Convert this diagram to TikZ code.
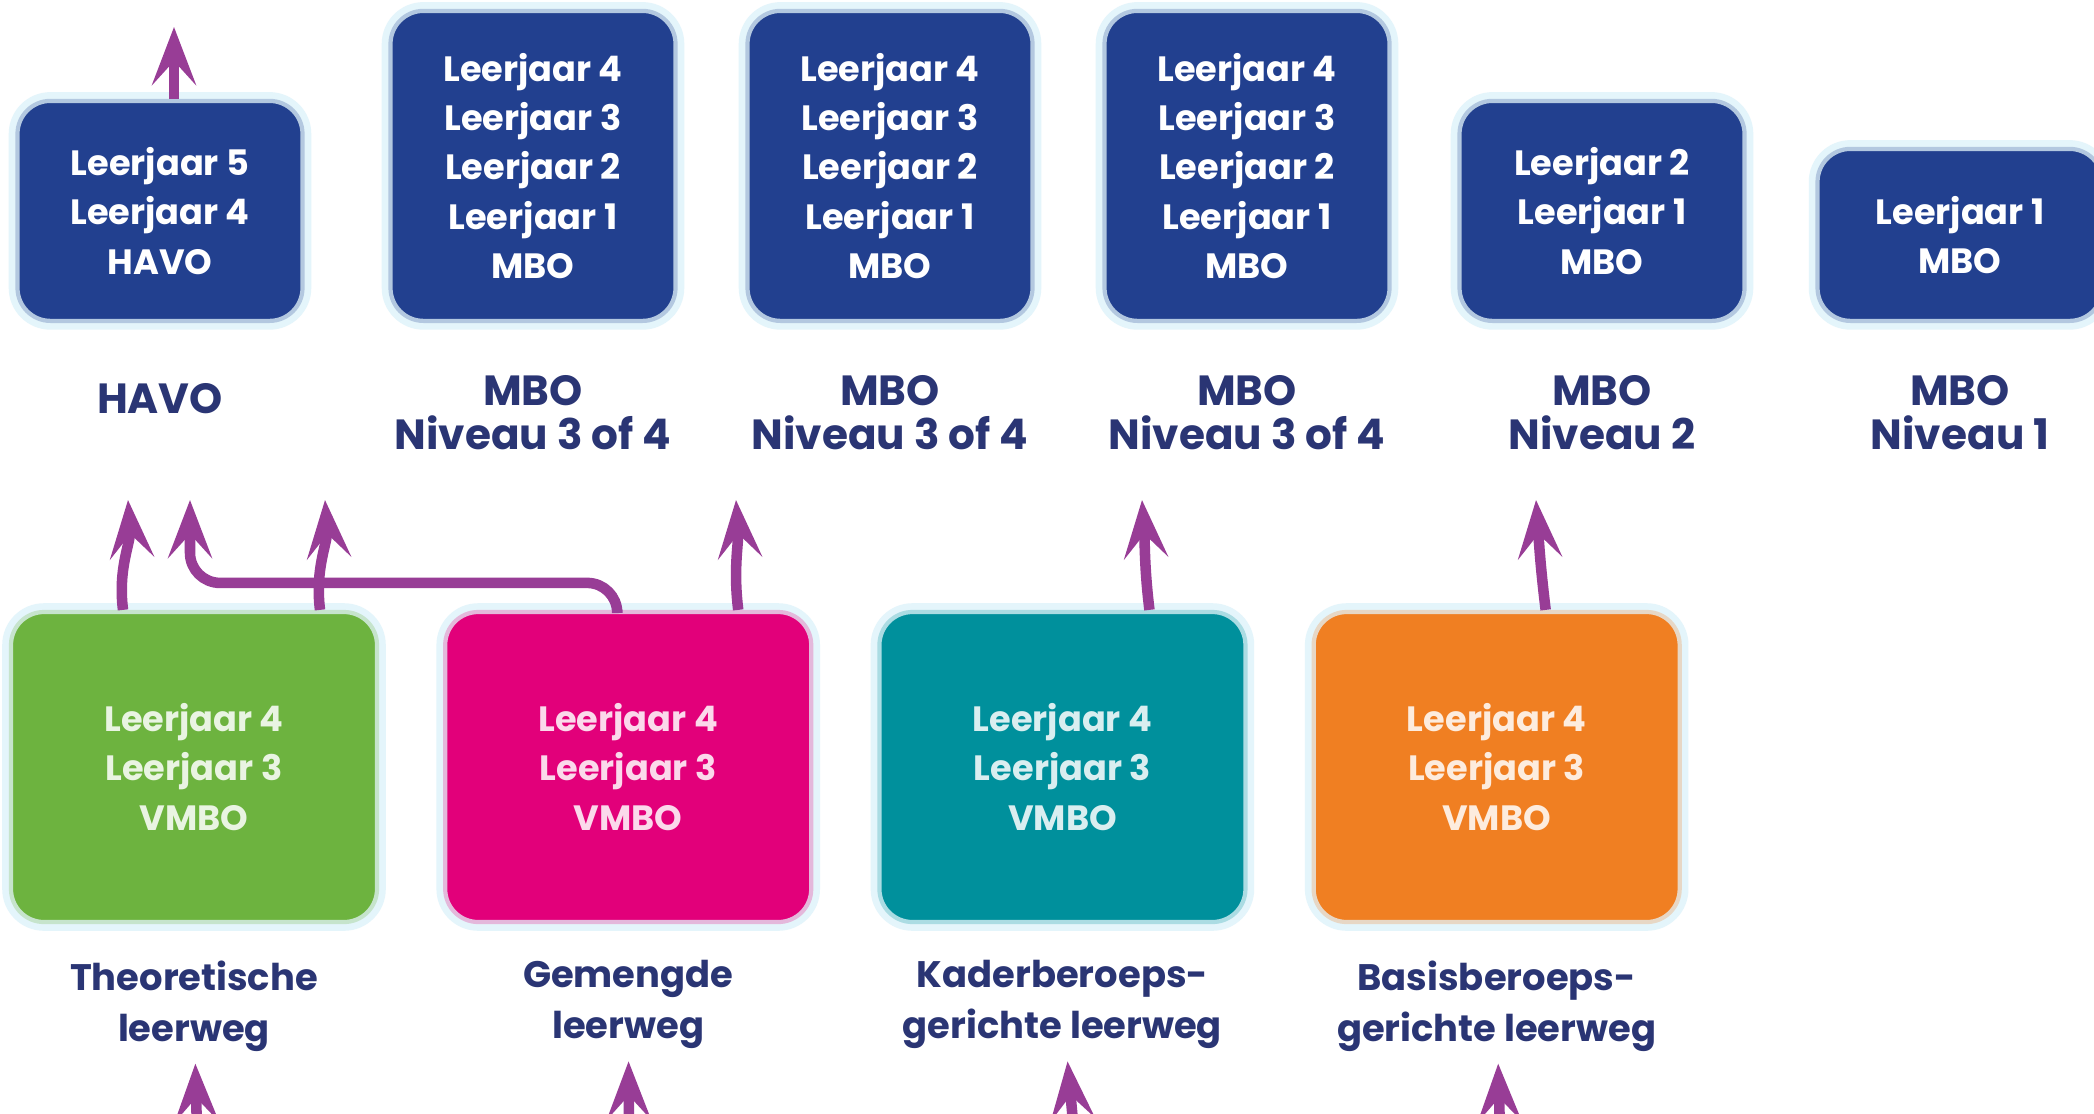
\documentclass[tikz,border=0pt]{standalone}
\usepackage{fontspec}
\setmainfont{Poppins}
\usetikzlibrary{arrows.meta,positioning}

\definecolor{navy}{HTML}{22408F}
\definecolor{inkt}{HTML}{2A3574}
\definecolor{paars}{HTML}{983D96}
\definecolor{groen}{HTML}{6DB33F}
\definecolor{roze}{HTML}{E2007A}
\definecolor{petrol}{HTML}{00909C}
\definecolor{oranje}{HTML}{F07F22}
\definecolor{gloed}{HTML}{E4F5FB}

\tikzset{
  blok/.style={rounded corners=0.33cm, fill=#1, draw=#1!25!gloed, line width=1.2pt,
    preaction={draw=gloed, line width=5pt}, align=center, inner sep=0pt,
    font=\bfseries\fontsize{10}{14}\selectfont},
  hoog/.style={blok=navy, text=white, minimum width=2.85cm, anchor=south},
  vmbo/.style={blok=#1, text=#1!15!white, minimum width=3.66cm, minimum height=3.10cm},
  naam/.style={text=inkt, align=center, font=\bfseries\fontsize{12}{12.5}\selectfont},
  pad/.style={naam, font=\bfseries\fontsize{10.5}{14.5}\selectfont},
  pijl/.style={draw=paars, line width=3pt,
    -{Stealth[length=0.58cm, width=0.44cm, inset=0.24cm]}},
}

\begin{document}
\begin{tikzpicture}
  \fill[white] (0,0) rectangle (20.94,11.13);
  \useasboundingbox (0,0) rectangle (20.94,11.13);
  \clip (0,0) rectangle (20.94,11.13);

  % vervolgopleidingen
  \node[hoog, minimum height=2.20cm] (havo) at (1.60,7.90) {Leerjaar 5\\Leerjaar 4\\HAVO};
  \node[hoog, minimum height=3.10cm] (mboa) at (5.33,7.90) {Leerjaar 4\\Leerjaar 3\\Leerjaar 2\\Leerjaar 1\\MBO};
  \node[hoog, minimum height=3.10cm] (mbob) at (8.90,7.90) {Leerjaar 4\\Leerjaar 3\\Leerjaar 2\\Leerjaar 1\\MBO};
  \node[hoog, minimum height=3.10cm] (mboc) at (12.47,7.90) {Leerjaar 4\\Leerjaar 3\\Leerjaar 2\\Leerjaar 1\\MBO};
  \node[hoog, minimum height=2.20cm] (mbotwee) at (16.02,7.90) {Leerjaar 2\\Leerjaar 1\\MBO};
  \node[hoog, minimum height=1.72cm] (mboeen) at (19.60,7.90) {Leerjaar 1\\MBO};

  \node[naam, below=0.48cm of havo] (lhavo) {HAVO};
  \node[naam, below=0.40cm of mboa] (lmboa) {MBO\\Niveau 3 of 4};
  \node[naam, below=0.40cm of mbob] (lmbob) {MBO\\Niveau 3 of 4};
  \node[naam, below=0.40cm of mboc] (lmboc) {MBO\\Niveau 3 of 4};
  \node[naam, below=0.40cm of mbotwee] (lmbotwee) {MBO\\Niveau 2};
  \node[naam, below=0.40cm of mboeen] (lmboeen) {MBO\\Niveau 1};

  % vmbo leerwegen
  \node[vmbo=groen] (theo) at (1.94,3.46) {Leerjaar 4\\Leerjaar 3\\VMBO};
  \node[vmbo=roze, right=0.64cm of theo] (gem) {Leerjaar 4\\Leerjaar 3\\VMBO};
  \node[vmbo=petrol, right=0.64cm of gem] (kader) {Leerjaar 4\\Leerjaar 3\\VMBO};
  \node[vmbo=oranje, right=0.64cm of kader] (basis) {Leerjaar 4\\Leerjaar 3\\VMBO};

  \node[pad, below=0.24cm of theo] (ltheo) {Theoretische\\leerweg};
  \node[pad, below=0.24cm of gem] (lgem) {Gemengde\\leerweg};
  \node[pad, below=0.24cm of kader] (lkader) {Kaderberoeps-\\gerichte leerweg};
  \node[pad, below=0.24cm of basis] (lbasis) {Basisberoeps-\\gerichte leerweg};

  % pijlpunten
  \coordinate (uit) at (1.74,10.86);
  \coordinate (t1) at (1.28,6.13);
  \coordinate (t2) at (1.90,6.13);
  \coordinate (t3) at (3.25,6.13);
  \coordinate (t4) at (7.36,6.13);
  \coordinate (t5) at (11.42,6.13);
  \coordinate (t6) at (15.36,6.13);
  \coordinate (in1) at (1.97,-0.2);
  \coordinate (in2) at (6.29,-0.2);
  \coordinate (in3) at (10.74,-0.2);
  \coordinate (in4) at (15.00,-0.2);

  \draw[pijl] (havo.north -| uit) -- (uit);
  \draw[pijl] ([xshift=-0.71cm]theo.north) to[out=97,in=-86] (t1);
  \draw[pijl] ([xshift=1.26cm]theo.north) to[out=97,in=-86] (t3);
  \draw[pijl, rounded corners=0.3cm] ([xshift=-0.11cm]gem.north) -- ++(0,0.27) -| (t2);
  \draw[pijl] ([xshift=1.10cm]gem.north) to[out=97,in=-86] (t4);
  \draw[pijl] ([xshift=0.87cm]kader.north) to[out=97,in=-86] (t5);
  \draw[pijl] ([xshift=0.49cm]basis.north) to[out=97,in=-86] (t6);

  \draw[pijl] (in1) -- (ltheo);
  \draw[pijl] (in2) -- (lgem);
  \draw[pijl] (in3) -- (lkader);
  \draw[pijl] (in4) -- (lbasis);
\end{tikzpicture}
\end{document}
